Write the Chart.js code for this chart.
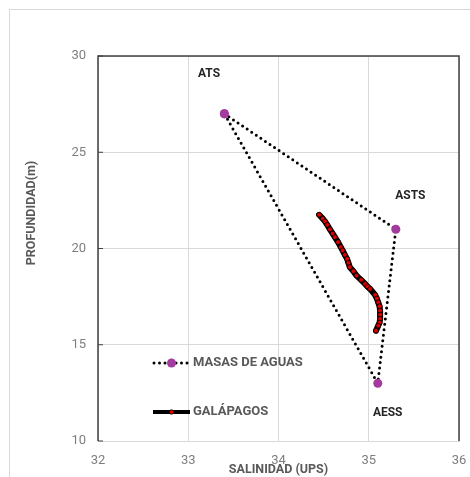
<!DOCTYPE html>
<html>
<head>
<meta charset="utf-8">
<script src="https://cdn.jsdelivr.net/npm/chart.js@4/dist/chart.umd.min.js"></script>
<style>
  html, body { margin: 0; padding: 0; background: #fff; }
  #wrap { width: 470px; height: 477px; }
</style>
</head>
<body>
<div id="wrap"><canvas id="chart" width="470" height="477"></canvas></div>
<script>
// water masses (closed triangle)
const masasNames = ['ATS', 'ASTS', 'AESS'];
const masasSal = [33.4, 35.3, 35.1];
const masasProf = [27, 21, 13];

// where the mass names sit (data coords)
const nameSal = [33.23, 35.46, 35.21];
const nameProf = [29.06, 22.71, 11.47];

// Galapagos profile
const galSal = [34.45, 34.49, 34.515, 34.54, 34.57, 34.60, 34.625, 34.66, 34.69, 34.71, 34.735, 34.76,
  34.775, 34.79, 34.83, 34.865, 34.915, 34.96, 34.985, 35.015, 35.07, 35.09, 35.105, 35.12,
  35.125, 35.127, 35.125, 35.12, 35.105, 35.08];
const galProf = [21.75, 21.55, 21.41, 21.23, 20.99, 20.77, 20.59, 20.33, 20.07, 19.90, 19.67, 19.46,
  19.25, 19.03, 18.82, 18.59, 18.37, 18.16, 18.03, 17.90, 17.59, 17.40, 17.20, 17.00,
  16.77, 16.56, 16.34, 16.15, 15.99, 15.73];

const xTicks = [32, 33, 34, 35, 36];
const yTicks = [10, 15, 20, 25, 30];

const grey = '#595959';
const purple = '#a33a9e';

const masasData = masasSal.map((s, i) => ({ x: s, y: masasProf[i] }));
masasData.push(masasData[0]);
const galData = galSal.map((s, i) => ({ x: s, y: galProf[i] }));

const frame = {
  id: 'frame',
  beforeDraw(chart) {
    const c = chart.ctx;
    c.save();
    c.strokeStyle = '#d9d9d9';
    c.lineWidth = 1;
    c.strokeRect(9.5, 9.5, 600, 600);
    // y axis title (Excel puts it above the middle)
    c.fillStyle = grey;
    c.font = 'bold 12.5px Roboto';
    c.textAlign = 'center';
    c.textBaseline = 'middle';
    c.translate(32, 213);
    c.rotate(-Math.PI / 2);
    c.fillText('PROFUNDIDAD(m)', 0, 0);
    c.restore();
  },
  afterDatasetsDraw(chart) {
    const c = chart.ctx;
    const a = chart.chartArea;
    const xs = chart.scales.x, ys = chart.scales.y;
    c.save();
    // plot border: left, top, right
    c.strokeStyle = '#404040';
    c.lineWidth = 1.5;
    c.beginPath();
    c.moveTo(a.left, a.bottom);
    c.lineTo(a.left, a.top);
    c.lineTo(a.right, a.top);
    c.lineTo(a.right, a.bottom);
    c.stroke();
    // small ticks into the plot
    c.lineWidth = 1;
    yTicks.forEach(v => {
      const y = ys.getPixelForValue(v);
      c.beginPath();
      c.moveTo(a.left, y);
      c.lineTo(a.left + 5, y);
      c.stroke();
    });
    // mass names
    c.fillStyle = '#262626';
    c.font = 'bold 12px Roboto';
    c.textAlign = 'center';
    c.textBaseline = 'middle';
    masasNames.forEach((n, i) => {
      c.fillText(n, xs.getPixelForValue(nameSal[i]), ys.getPixelForValue(nameProf[i]));
    });
    // in-plot legend
    const lx = 153, lw = 37;
    const rows = [363, 412];
    c.font = 'bold 13px Roboto';
    c.textAlign = 'left';
    c.fillStyle = grey;
    c.fillText('MASAS DE AGUAS', lx + lw + 3, rows[0]);
    c.fillText('GALÁPAGOS', lx + lw + 3, rows[1]);
    c.strokeStyle = '#000';
    c.lineWidth = 3;
    c.lineCap = 'round';
    c.setLineDash([0, 5.5]);
    c.beginPath();
    c.moveTo(lx + 1, rows[0]);
    c.lineTo(lx + lw, rows[0]);
    c.stroke();
    c.setLineDash([]);
    c.fillStyle = purple;
    c.beginPath();
    c.arc(lx + lw / 2, rows[0], 4.5, 0, Math.PI * 2);
    c.fill();
    c.lineCap = 'butt';
    c.lineWidth = 4;
    c.beginPath();
    c.moveTo(lx, rows[1]);
    c.lineTo(lx + lw, rows[1]);
    c.stroke();
    c.fillStyle = '#e00000';
    c.lineWidth = 0.8;
    c.beginPath();
    c.arc(lx + lw / 2, rows[1], 2.2, 0, Math.PI * 2);
    c.fill();
    c.stroke();
    c.restore();
  }
};

new Chart(document.getElementById('chart'), {
  type: 'scatter',
  data: {
    datasets: [
      {
        label: 'GALÁPAGOS',
        data: galData,
        showLine: true,
        borderColor: '#000',
        borderWidth: 6,
        borderCapStyle: 'round',
        borderJoinStyle: 'round',
        pointRadius: 2.4,
        pointBackgroundColor: '#e00000',
        pointBorderColor: '#000',
        pointBorderWidth: 0.8,
        order: 1
      },
      {
        label: 'MASAS DE AGUAS',
        data: masasData,
        showLine: true,
        borderColor: '#000',
        borderWidth: 3,
        borderDash: [0, 5.5],
        borderCapStyle: 'round',
        pointRadius: 4.5,
        pointBackgroundColor: purple,
        pointBorderWidth: 0,
        order: 2
      }
    ]
  },
  options: {
    responsive: false,
    animation: false,
    devicePixelRatio: 1,
    layout: { padding: { left: 0, top: 56, right: 11, bottom: 0 } },
    plugins: {
      legend: { display: false },
      tooltip: { enabled: false }
    },
    scales: {
      x: {
        type: 'linear',
        min: 32, max: 36,
        afterBuildTicks: s => { s.ticks = xTicks.map(v => ({ value: v })); },
        afterFit: s => { s.height = 36; s.paddingLeft = 0; s.paddingRight = 0; },
        grid: { color: '#d9d9d9', lineWidth: 1, drawTicks: false },
        border: { display: true, color: '#d9d9d9' },
        ticks: { color: '#7f7f7f', font: { family: 'Roboto', size: 13 }, padding: 12 },
        title: {
          display: true,
          text: 'SALINIDAD (UPS)',
          color: grey,
          font: { family: 'Roboto', size: 12.5, weight: 'bold' },
          padding: { top: 0, bottom: 0 }
        }
      },
      y: {
        type: 'linear',
        min: 10, max: 30,
        afterBuildTicks: s => { s.ticks = yTicks.map(v => ({ value: v })); },
        afterFit: s => { s.width = 98; s.paddingTop = 0; s.paddingBottom = 0; },
        grid: { color: '#d9d9d9', lineWidth: 1, drawTicks: false },
        border: { display: false },
        ticks: { color: '#7f7f7f', font: { family: 'Roboto', size: 13 }, padding: 12 }
      }
    }
  },
  plugins: [frame]
});
</script>
</body>
</html>
